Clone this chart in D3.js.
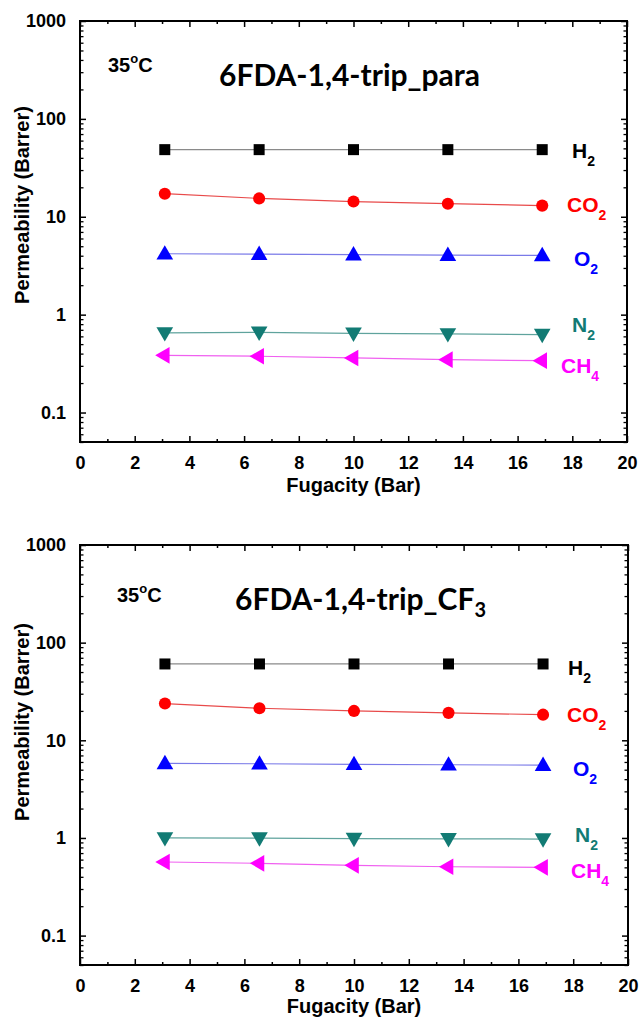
<!DOCTYPE html>
<html>
<head>
<meta charset="utf-8">
<script src="https://cdn.jsdelivr.net/npm/d3@7"></script>
<style>
  html, body { margin: 0; padding: 0; background: #fff; }
  svg { display: block; }
  text { font-family: "Liberation Sans", Arial, sans-serif; font-weight: bold; }
</style>
</head>
<body>
<svg id="chart" width="642" height="1017"></svg>
<script>
// ---------------- data ----------------
const fugacity = [3.1, 6.55, 10, 13.45, 16.9];
const gases = ["H2", "CO2", "O2", "N2", "CH4"];
const gasColors = ["#000000", "#ff0000", "#0000ff", "#127b74", "#ff00ff"];
const lineColors = ["#8a8a8a", "#e84a4a", "#7a7ae8", "#5fa39d", "#f060f0"];

// 6FDA-1,4-trip_para
const paraH2  = [48.5, 48.5, 48.5, 48.5, 48.5];
const paraCO2 = [17.2, 15.4, 14.3, 13.6, 13.0];
const paraO2  = [4.19, 4.15, 4.10, 4.06, 4.03];
const paraN2  = [0.65, 0.66, 0.645, 0.635, 0.625];
const paraCH4 = [0.384, 0.376, 0.361, 0.347, 0.339];

// 6FDA-1,4-trip_CF3
const cf3H2  = [60.5, 60.5, 60.5, 60.5, 60.5];
const cf3CO2 = [23.8, 21.3, 20.0, 19.1, 18.3];
const cf3O2  = [5.80, 5.75, 5.68, 5.62, 5.57];
const cf3N2  = [1.0, 0.995, 0.985, 0.98, 0.975];
const cf3CH4 = [0.567, 0.55, 0.524, 0.507, 0.50];

const xTicks = [0, 2, 4, 6, 8, 10, 12, 14, 16, 18, 20];
const yTicks = [0.1, 1, 10, 100, 1000];
const xTitle = "Fugacity (Bar)";
const yTitle = "Permeability (Barrer)";
const tempLabel = "35";

// ---------------- drawing ----------------
const svg = d3.select("#chart");

const markerShapes = [
  d3.symbolSquare, d3.symbolCircle, d3.symbolTriangle, d3.symbolTriangle, d3.symbolTriangle
];
const markerRot = [0, 0, 0, 180, -90];
const markerSize = [121, 115, 120, 120, 120];

function drawPanel(cfg) {
  const { left, right, top, bottom, series, title, titleSub, labelPos, titlePos, tempPos, yTitleY, xTitleY } = cfg;
  const g = svg.append("g");

  const x = d3.scaleLinear().domain([0, 20]).range([left, right]);
  const y = d3.scaleLog().domain([0.05, 1000]).range([bottom, top]);

  // minor y ticks
  const yMinor = [];
  for (let e = -2; e <= 2; e++) {
    for (let m = 2; m <= 9; m++) {
      const v = m * Math.pow(10, e);
      if (v >= 0.05 && v <= 1000) yMinor.push(v);
    }
  }
  const xMinor = d3.range(1, 20, 2);

  const fontTick = "18px";

  // bottom axis
  g.append("g").attr("transform", `translate(0,${bottom})`)
    .call(d3.axisBottom(x).tickValues(xTicks).tickSizeInner(-6).tickSizeOuter(0).tickPadding(14).tickFormat(d3.format("d")))
    .call(a => a.select(".domain").remove())
    .call(a => a.selectAll("line").attr("stroke", "#000").attr("stroke-width", 1.5))
    .call(a => a.selectAll("text").attr("fill", "#000").style("font-size", fontTick).attr("dy", "0.71em"));
  g.append("g").attr("transform", `translate(0,${bottom})`)
    .call(d3.axisBottom(x).tickValues(xMinor).tickSizeInner(-3).tickSizeOuter(0).tickFormat(""))
    .call(a => a.select(".domain").remove())
    .call(a => a.selectAll("line").attr("stroke", "#000").attr("stroke-width", 1.5));
  // top axis
  g.append("g").attr("transform", `translate(0,${top})`)
    .call(d3.axisTop(x).tickValues(xTicks).tickSizeInner(-6).tickSizeOuter(0).tickFormat(""))
    .call(a => a.select(".domain").remove())
    .call(a => a.selectAll("line").attr("stroke", "#000").attr("stroke-width", 1.5));
  g.append("g").attr("transform", `translate(0,${top})`)
    .call(d3.axisTop(x).tickValues(xMinor).tickSizeInner(-3).tickSizeOuter(0).tickFormat(""))
    .call(a => a.select(".domain").remove())
    .call(a => a.selectAll("line").attr("stroke", "#000").attr("stroke-width", 1.5));

  // left axis
  g.append("g").attr("transform", `translate(${left},0)`)
    .call(d3.axisLeft(y).tickValues(yTicks).tickSizeInner(-6).tickSizeOuter(0).tickPadding(14)
      .tickFormat(d => d < 1 ? d3.format(".1f")(d) : d3.format("d")(d)))
    .call(a => a.select(".domain").remove())
    .call(a => a.selectAll("line").attr("stroke", "#000").attr("stroke-width", 1.5))
    .call(a => a.selectAll("text").attr("fill", "#000").style("font-size", fontTick));
  g.append("g").attr("transform", `translate(${left},0)`)
    .call(d3.axisLeft(y).tickValues(yMinor).tickSizeInner(-3.5).tickSizeOuter(0).tickFormat(""))
    .call(a => a.select(".domain").remove())
    .call(a => a.selectAll("line").attr("stroke", "#000").attr("stroke-width", 1.3));
  // right axis
  g.append("g").attr("transform", `translate(${right},0)`)
    .call(d3.axisRight(y).tickValues(yTicks).tickSizeInner(-6).tickSizeOuter(0).tickFormat(""))
    .call(a => a.select(".domain").remove())
    .call(a => a.selectAll("line").attr("stroke", "#000").attr("stroke-width", 1.5));
  g.append("g").attr("transform", `translate(${right},0)`)
    .call(d3.axisRight(y).tickValues(yMinor).tickSizeInner(-3.5).tickSizeOuter(0).tickFormat(""))
    .call(a => a.select(".domain").remove())
    .call(a => a.selectAll("line").attr("stroke", "#000").attr("stroke-width", 1.3));

  // frame
  g.append("rect").attr("x", left).attr("y", top).attr("width", right - left).attr("height", bottom - top)
    .attr("fill", "none").attr("stroke", "#000").attr("stroke-width", 2);

  // series
  const line = d3.line().x((d, i) => x(fugacity[i])).y(d => y(d));
  series.forEach((vals, si) => {
    g.append("path").datum(vals).attr("d", line)
      .attr("fill", "none").attr("stroke", lineColors[si]).attr("stroke-width", 1.2);
    const sym = d3.symbol().type(markerShapes[si]).size(markerSize[si]);
    g.selectAll(null).data(vals).enter().append("path")
      .attr("d", sym)
      .attr("transform", (d, i) => `translate(${x(fugacity[i])},${y(d) + (si === 2 ? 1 : si === 3 ? -1 : 0)}) rotate(${markerRot[si]})`)
      .attr("fill", gasColors[si]);
  });

  // gas labels
  gases.forEach((gname, si) => {
    const m = gname.match(/^([A-Z]+)(\d)$/);
    const t = g.append("text").attr("x", labelPos[si][0]).attr("y", labelPos[si][1])
      .attr("fill", gasColors[si]).style("font-size", "21px");
    t.append("tspan").text(m[1]);
    t.append("tspan").text(m[2]).attr("dy", 8).style("font-size", "14px");
  });

  // temperature
  const tt = g.append("text").attr("x", tempPos[0]).attr("y", tempPos[1]).style("font-size", "20px").attr("fill", "#000");
  tt.append("tspan").text(tempLabel);
  tt.append("tspan").text("o").attr("dy", -9).style("font-size", "13px");
  tt.append("tspan").text("C").attr("dy", 9);

  // title
  const ti = g.append("text").attr("x", titlePos[0]).attr("y", titlePos[1])
    .style("font-family", "Lato, 'Open Sans', sans-serif").style("font-size", "30px").attr("fill", "#000");
  ti.append("tspan").text(title);
  if (titleSub) ti.append("tspan").text(titleSub).attr("dy", 7).style("font-size", "20px");

  // axis titles
  g.append("text").attr("x", (left + right) / 2).attr("y", xTitleY).attr("text-anchor", "middle")
    .style("font-size", "20px").attr("fill", "#000").text(xTitle);
  g.append("text").attr("transform", `translate(29,${yTitleY}) rotate(-90)`).attr("text-anchor", "middle")
    .style("font-size", "20px").attr("fill", "#000").text(yTitle);
}

drawPanel({
  left: 80, right: 627, top: 21, bottom: 442,
  series: [paraH2, paraCO2, paraO2, paraN2, paraCH4],
  title: "6FDA-1,4-trip_para", titleSub: null,
  titlePos: [219, 86], tempPos: [108, 72],
  labelPos: [[572, 158], [567, 212], [574, 266], [572, 332], [561, 373]],
  yTitleY: 205, xTitleY: 492
});

drawPanel({
  left: 80, right: 628, top: 545, bottom: 965,
  series: [cf3H2, cf3CO2, cf3O2, cf3N2, cf3CH4],
  title: "6FDA-1,4-trip_CF", titleSub: "3",
  titlePos: [235, 610], tempPos: [117, 602],
  labelPos: [[568, 675], [567, 722], [573, 776], [575, 842], [571, 878]],
  yTitleY: 722, xTitleY: 1013
});
</script>
</body>
</html>
